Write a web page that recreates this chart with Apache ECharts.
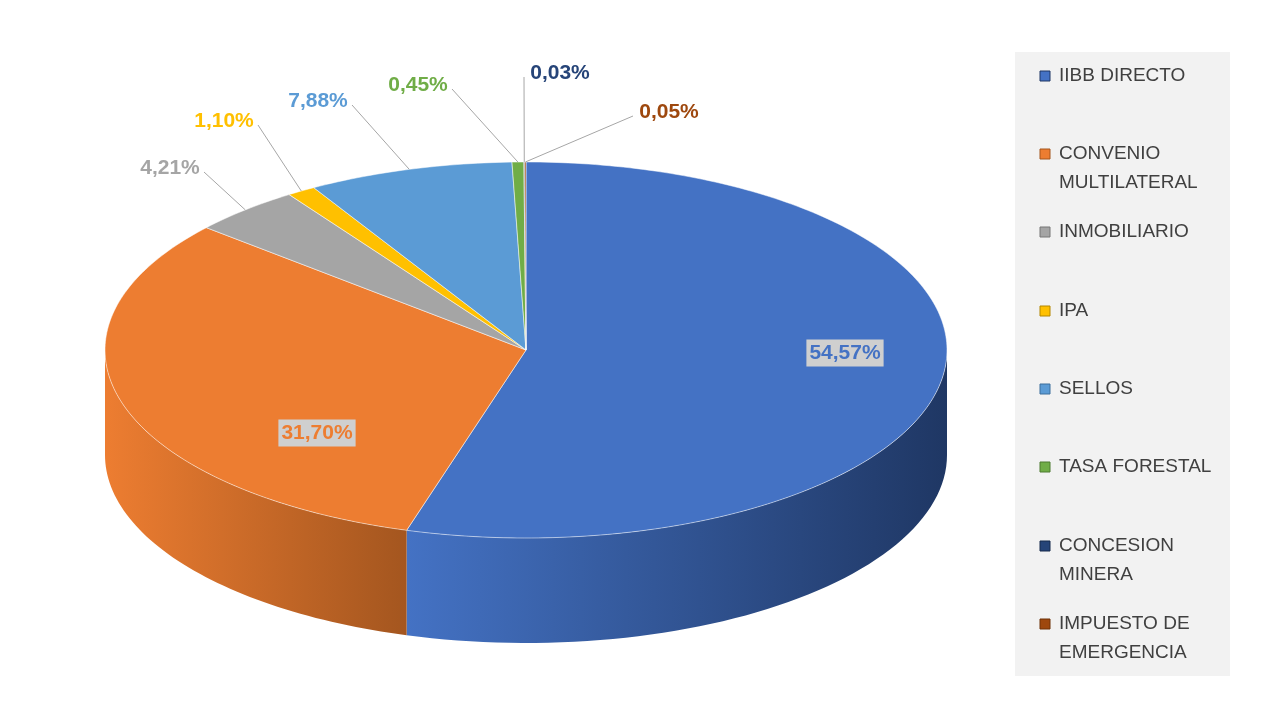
<!DOCTYPE html><html><head><meta charset="utf-8">
<script src="https://cdn.jsdelivr.net/npm/echarts@6/dist/echarts.min.js"></script>
<style>html,body{margin:0;background:#fff}#c{width:1280px;height:720px}</style></head><body><div id="c"></div>
<script>
const categories=['IIBB DIRECTO','CONVENIO MULTILATERAL','INMOBILIARIO','IPA','SELLOS','TASA FORESTAL','CONCESION MINERA','IMPUESTO DE EMERGENCIA'];
const legendLabels=['IIBB DIRECTO','CONVENIO\nMULTILATERAL','INMOBILIARIO','IPA','SELLOS','TASA FORESTAL','CONCESION\nMINERA','IMPUESTO DE\nEMERGENCIA'];
const values=[54.57,31.70,4.21,1.10,7.88,0.45,0.03,0.05];
const labelTexts=['54,57%','31,70%','4,21%','1,10%','7,88%','0,45%','0,03%','0,05%'];
const colors=['#4472c4','#ed7d31','#a5a5a5','#ffc000','#5b9bd5','#70ad47','#264478','#9e480e'];
const sideColors=['#1f3764','#a4561f','#777','#b38600','#3c6f9c','#4d7a30','#172a4c','#6e3209'];
const labelPos=[[845,353],[317,433],[170,168],[224,121],[318,101],[418,85],[560,73],[669,112]];
const inside=[true,true,false,false,false,false,false,false];
const CX=526,CY=350,RX=421,RY=188,D=105;
const total=values.reduce((a,b)=>a+b,0);
const cum=[0];values.forEach(v=>cum.push(cum[cum.length-1]+v));
function pt(a,dy){return [CX+RX*Math.sin(a),CY-RY*Math.cos(a)+(dy||0)];}
function renderItem(params,api){
  const i=params.dataIndex;
  const a0=cum[i]/total*2*Math.PI,a1=cum[i+1]/total*2*Math.PI;
  const ch=[];
  const s0=Math.max(a0,Math.PI/2),s1=Math.min(a1,1.5*Math.PI);
  if(s1>s0){
    const top=[],bot=[];const n=60;
    for(let k=0;k<=n;k++){const a=s0+(s1-s0)*k/n;top.push(pt(a));bot.push(pt(a,D));}
    ch.push({type:'polygon',shape:{points:top.concat(bot.reverse())},style:{fill:{type:'linear',x:0,y:0,x2:1,y2:0,colorStops:[{offset:0,color:colors[i]},{offset:1,color:sideColors[i]}]}}});
  }
  const pts=[[CX,CY]];const n=Math.max(2,Math.ceil((a1-a0)*60));
  for(let k=0;k<=n;k++)pts.push(pt(a0+(a1-a0)*k/n));
  ch.push({type:'polygon',shape:{points:pts},style:{fill:colors[i],stroke:'#fff',lineWidth:0.5}});
  const lp=labelPos[i];
  if(inside[i]){
    ch.push({type:'text',x:lp[0],y:lp[1],style:{text:labelTexts[i],fill:colors[i],font:'bold 21px "Liberation Sans"',align:'center',verticalAlign:'middle',backgroundColor:'#cfcfcf',padding:[3,3]}});
  }else{
    const m=pt((a0+a1)/2);
    const ex=lp[0]+(lp[0]<CX?34:-36), ey=lp[1]+4;
    ch.push({type:'polyline',shape:{points:[m,[ex,ey]]},style:{stroke:'#a6a6a6',lineWidth:1}});
    ch.push({type:'text',x:lp[0],y:lp[1],style:{text:labelTexts[i],fill:colors[i],font:'bold 21px "Liberation Sans"',align:'center',verticalAlign:'middle'}});
  }
  return {type:'group',children:ch};
}
const legendY=[76,168,232,311,389,467,560,638];
const g=[{type:'rect',shape:{x:1015,y:52,width:215,height:624},style:{fill:'#f2f2f2'}}];
categories.forEach((c,i)=>{
  g.push({type:'rect',shape:{x:1040,y:legendY[i]-(legendLabels[i].includes('\n')?19:5),width:10,height:10},style:{fill:colors[i],stroke:sideColors[i],lineWidth:1}});
  g.push({type:'text',x:1059,y:legendY[i],style:{text:legendLabels[i],fill:'#404040',font:'19px "Liberation Sans"',verticalAlign:'middle',lineHeight:29}});
});
const chart=echarts.init(document.getElementById('c'));
chart.setOption({animation:false,
  series:[{type:'custom',coordinateSystem:'none',renderItem,data:values.map((v,i)=>({name:categories[i],value:v}))}],
  graphic:g});
</script></body></html>
